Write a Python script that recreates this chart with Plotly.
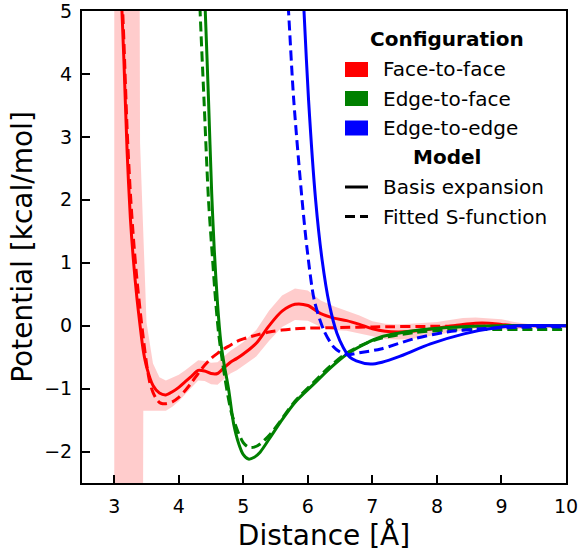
import plotly.graph_objects as go

# ---------------- data ----------------
# Face-to-face, basis expansion (with uncertainty band)
ff_x = [3.0, 3.05, 3.1, 3.15, 3.2, 3.25, 3.3, 3.35, 3.4, 3.45, 3.5, 3.6, 3.7, 3.8, 3.9,
        4.0, 4.1, 4.2, 4.3, 4.4, 4.5, 4.6, 4.7, 4.8, 4.9, 5.0, 5.2, 5.4, 5.6, 5.8,
        6.0, 6.2, 6.4, 6.6, 6.8, 7.0, 7.2, 7.4, 7.6, 7.8, 8.0, 8.2, 8.4, 8.6, 8.8,
        9.0, 9.2, 9.4, 9.6, 9.8, 10.0]
ff_basis = [8.5, 7.0, 5.5, 4.2, 2.75, 1.7, 1.0, 0.45, 0.0, -0.4, -0.65, -0.95, -1.07, -1.10, -1.05,
            -0.98, -0.89, -0.80, -0.71, -0.72, -0.76, -0.76, -0.67, -0.58, -0.52, -0.45, -0.28, 0.0, 0.23, 0.34,
            0.32, 0.19, 0.12, 0.08, 0.02, -0.05, -0.09, -0.10, -0.09, -0.07, -0.04, -0.01, 0.02, 0.04, 0.04,
            0.02, 0.0, 0.0, 0.0, 0.0, 0.0]
ff_err_hi = [20, 20, 20, 20, 20, 20, 20, 20, 2.9, 1.9, 0.7, 0.35, 0.25, 0.23, 0.22,
             0.2, 0.18, 0.17, 0.16, 0.16, 0.17, 0.18, 0.18, 0.18, 0.19, 0.19, 0.21, 0.24, 0.25, 0.25,
             0.24, 0.21, 0.19, 0.16, 0.14, 0.12, 0.12, 0.12, 0.12, 0.11, 0.1, 0.1, 0.1, 0.09, 0.08,
             0.08, 0.06, 0.03, 0.0, 0.0, 0.0]
ff_err_lo = [20, 20, 20, 20, 20, 20, 20, 20, 20, 0.95, 0.7, 0.4, 0.28, 0.25, 0.24,
             0.22, 0.2, 0.18, 0.16, 0.16, 0.17, 0.18, 0.18, 0.18, 0.19, 0.19, 0.21, 0.24, 0.25, 0.25,
             0.24, 0.21, 0.19, 0.16, 0.14, 0.12, 0.12, 0.12, 0.12, 0.11, 0.1, 0.1, 0.1, 0.09, 0.08,
             0.08, 0.06, 0.03, 0.0, 0.0, 0.0]

# Face-to-face, fitted S-function
ffs_x = [3.0, 3.1, 3.15, 3.2, 3.25, 3.3, 3.35, 3.4, 3.45, 3.5, 3.55, 3.6, 3.65, 3.7, 3.75, 3.8,
         3.9, 4.0, 4.1, 4.2, 4.3, 4.4, 4.5, 4.6, 4.7, 4.8, 4.9, 5.0, 5.2, 5.4, 5.6, 5.8,
         6.0, 6.5, 7.0, 8.0, 9.0, 10.0]
ffs_y = [9.0, 5.8, 4.5, 3.1, 2.1, 1.35, 0.75, 0.25, -0.2, -0.6, -0.9, -1.06, -1.16, -1.22, -1.24, -1.24,
         -1.21, -1.14, -1.03, -0.90, -0.76, -0.63, -0.52, -0.44, -0.37, -0.31, -0.25, -0.21, -0.15, -0.10, -0.07, -0.05,
         -0.04, -0.03, -0.02, -0.01, -0.005, 0.0]

# Edge-to-face, basis expansion
ef_x = [4.35, 4.41, 4.46, 4.51, 4.55, 4.60, 4.65, 4.70, 4.77, 4.85, 4.93, 5.0, 5.08, 5.17,
        5.26, 5.42, 5.57, 5.8, 6.09, 6.35, 6.61, 6.9, 7.13, 7.4, 7.64, 8.16, 8.6, 9.0, 10.0]
ef_basis = [6.5, 5.0, 3.6, 2.1, 1.2, 0.35, -0.25, -0.6, -1.0, -1.56, -1.88, -2.05, -2.12, -2.09,
            -2.01, -1.77, -1.54, -1.22, -0.93, -0.67, -0.45, -0.28, -0.18, -0.12, -0.08, -0.03, -0.01, 0.0, 0.0]

# Edge-to-face, fitted S-function
efs_x = [4.28, 4.33, 4.39, 4.46, 4.52, 4.57, 4.62, 4.68, 4.75, 4.82, 4.93, 5.0, 5.08, 5.17,
         5.26, 5.42, 5.57, 5.8, 6.09, 6.35, 6.61, 6.9, 7.13, 7.64, 8.16, 8.68, 9.5, 10.0]
efs_y = [6.5, 5.0, 3.6, 2.0, 1.1, 0.4, -0.15, -0.6, -1.05, -1.4, -1.72, -1.86, -1.93, -1.93,
         -1.88, -1.72, -1.52, -1.2, -0.9, -0.64, -0.43, -0.28, -0.2, -0.11, -0.07, -0.06, -0.06, -0.06]

# Edge-to-edge, basis expansion
ee_x = [5.90, 5.94, 6.01, 6.12, 6.22, 6.33, 6.45, 6.55, 6.65, 6.75, 6.97, 7.15, 7.39,
        7.9, 8.42, 8.94, 9.3, 10.0]
ee_basis = [5.8, 5.0, 3.6, 2.0, 1.05, 0.35, -0.12, -0.35, -0.5, -0.56, -0.61, -0.58, -0.5,
            -0.29, -0.13, -0.03, 0.0, 0.0]

# Edge-to-edge, fitted S-function
ees_x = [5.65, 5.70, 5.78, 5.91, 5.99, 6.10, 6.25, 6.40, 6.5, 6.61, 6.8, 7.13, 7.64,
         8.16, 8.68, 9.5, 10.0]
ees_y = [5.8, 5.0, 3.6, 2.0, 1.2, 0.4, -0.08, -0.34, -0.42, -0.46, -0.43, -0.37, -0.21,
         -0.10, -0.05, -0.02, -0.02]

config_names = ["Face-to-face", "Edge-to-face", "Edge-to-edge"]
config_colors = ["#ff0000", "#008000", "#0000ff"]
model_names = ["Basis expansion", "Fitted S-function"]
model_dashes = ["solid", "10px,5px"]

x_ticks = [3, 4, 5, 6, 7, 8, 9, 10]
y_ticks = [-2, -1, 0, 1, 2, 3, 4, 5]

# ---------------- figure ----------------
FONT = "DejaVu Sans"
W, H = 578, 552
L, R, T, B = 82, 12, 11, 69
PW, PH = W - L - R, H - T - B
LW = 3

fig = go.Figure()

band_hi = [y + e for y, e in zip(ff_basis, ff_err_hi)]
band_lo = [y - e for y, e in zip(ff_basis, ff_err_lo)]
fig.add_trace(go.Scatter(x=ff_x, y=band_lo, mode="lines", line=dict(width=0),
                         hoverinfo="skip", showlegend=False))
fig.add_trace(go.Scatter(x=ff_x, y=band_hi, mode="lines", line=dict(width=0),
                         fill="tonexty", fillcolor="rgba(255,0,0,0.2)",
                         hoverinfo="skip", showlegend=False))

series = [
    (ff_x, ff_basis, 0, 0),
    (ffs_x, ffs_y, 0, 1),
    (ef_x, ef_basis, 1, 0),
    (efs_x, efs_y, 1, 1),
    (ee_x, ee_basis, 2, 0),
    (ees_x, ees_y, 2, 1),
]
for xs, ys, ci, mi in series:
    fig.add_trace(go.Scatter(
        x=xs, y=ys, mode="lines",
        line=dict(color=config_colors[ci], width=LW, dash=model_dashes[mi],
                  shape="spline", smoothing=0.8),
        name=f"{config_names[ci]} - {model_names[mi]}", showlegend=False))

# ---------------- manual legend (pixel -> paper) ----------------
def px(xp):
    return (xp - L) / PW

def py(yp):
    return (H - B - yp) / PH

LEG_SIZE = 20
shapes = []
annotations = []
title_cx = 447
annotations.append(dict(text="<b>Configuration</b>", x=px(title_cx), y=py(38.5),
                        xref="paper", yref="paper", showarrow=False,
                        xanchor="center", yanchor="middle",
                        font=dict(family=FONT, size=LEG_SIZE, color="black")))
row_y = [69.5, 98.5, 128]
for name, col, yy in zip(config_names, config_colors, row_y):
    shapes.append(dict(type="rect", xref="paper", yref="paper",
                       x0=px(345), x1=px(368), y0=py(yy - 7.5), y1=py(yy + 7.5),
                       fillcolor=col, line=dict(width=0)))
    annotations.append(dict(text=name, x=px(381), y=py(yy), xref="paper", yref="paper",
                            showarrow=False, xanchor="left", yanchor="middle",
                            font=dict(family=FONT, size=LEG_SIZE, color="black")))
annotations.append(dict(text="<b>Model</b>", x=px(title_cx), y=py(157), xref="paper", yref="paper",
                        showarrow=False, xanchor="center", yanchor="middle",
                        font=dict(family=FONT, size=LEG_SIZE, color="black")))
for name, dash, yy in zip(model_names, model_dashes, [187, 216.5]):
    shapes.append(dict(type="line", xref="paper", yref="paper",
                       x0=px(345), x1=px(368), y0=py(yy), y1=py(yy),
                       line=dict(color="black", width=LW, dash=dash)))
    annotations.append(dict(text=name, x=px(381), y=py(yy), xref="paper", yref="paper",
                            showarrow=False, xanchor="left", yanchor="middle",
                            font=dict(family=FONT, size=LEG_SIZE, color="black")))

fig.update_layout(
    width=W, height=H,
    margin=dict(l=L, r=R, t=T, b=B, pad=0, autoexpand=False),
    paper_bgcolor="white", plot_bgcolor="white",
    font=dict(family=FONT, size=19, color="black"),
    shapes=shapes, annotations=annotations,
    showlegend=False,
)
fig.update_xaxes(range=[2.5, 10], tickvals=x_ticks, ticktext=[str(v) for v in x_ticks],
                 ticks="inside", ticklen=8, tickwidth=1.8, tickcolor="black",
                 showline=True, linecolor="black", linewidth=2, mirror=True,
                 showgrid=False, zeroline=False, automargin=False,
                 ticklabeloverflow="allow", ticklabelstandoff=5,
                 tickfont=dict(family=FONT, size=19),
                 title=dict(text="Distance [Å]", font=dict(family=FONT, size=28), standoff=12))
fig.update_yaxes(range=[-2.5, 5], tickvals=y_ticks,
                 ticktext=[("\u2212" + str(-v)) if v < 0 else str(v) for v in y_ticks],
                 ticks="inside", ticklen=8, tickwidth=1.8, tickcolor="black",
                 showline=True, linecolor="black", linewidth=2, mirror=True,
                 showgrid=False, zeroline=False, automargin=False,
                 ticklabeloverflow="allow", ticklabelstandoff=4,
                 tickfont=dict(family=FONT, size=19),
                 title=dict(text="Potential [kcal/mol]", font=dict(family=FONT, size=28), standoff=3))

fig.write_html("out.html")
